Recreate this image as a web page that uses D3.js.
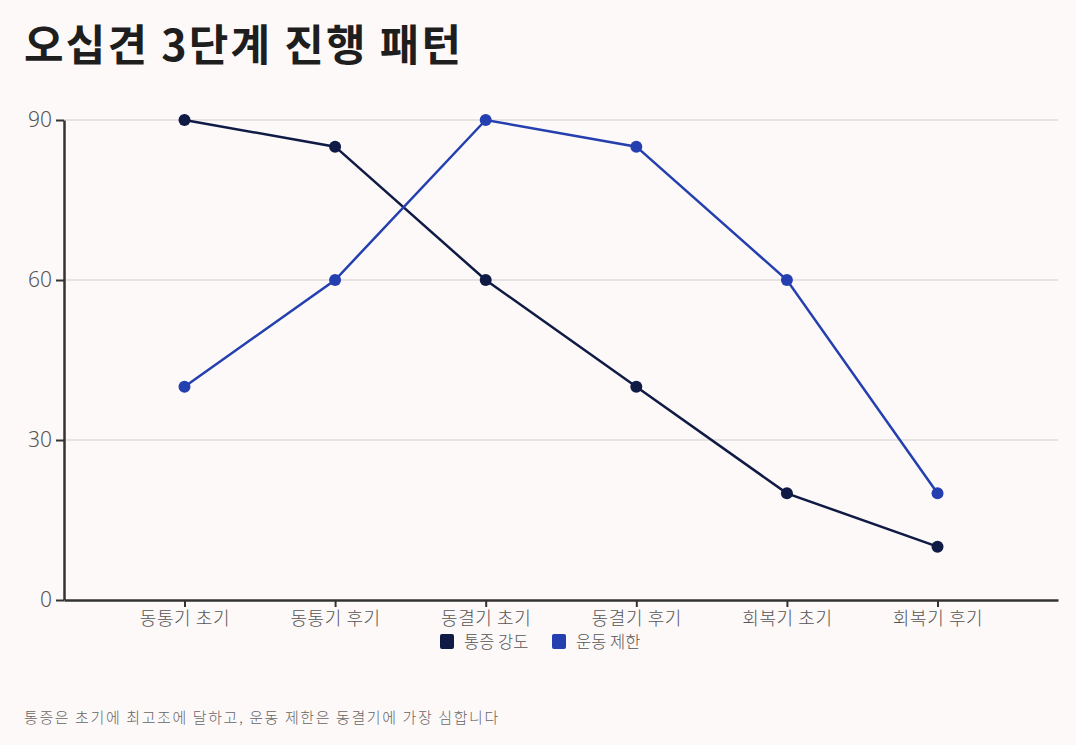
<!DOCTYPE html>
<html>
<head>
<meta charset="utf-8">
<script src="https://cdn.jsdelivr.net/npm/d3@7"></script>
<style>
  body { margin: 0; background: #fdf9f8; font-family: "Noto Sans CJK KR", "Noto Sans", sans-serif; }
  svg { display: block; }
</style>
</head>
<body>
<script>
// data
var stages = ["동통기 초기", "동통기 후기", "동결기 초기", "동결기 후기", "회복기 초기", "회복기 후기"];
var painValues = [90, 85, 60, 40, 20, 10];
var motionValues = [40, 60, 90, 85, 60, 20];
var seriesNames = ["통증 강도", "운동 제한"];
var yTicks = [0, 30, 60, 90];
var colors = ["#0f1a45", "#243fb0"];

var width = 1076, height = 745;
var plotLeft = 64, plotRight = 1058, plotTop = 120, plotBottom = 600;

var svg = d3.select("body").append("svg")
    .attr("width", width)
    .attr("height", height);

svg.append("rect").attr("width", width).attr("height", height).attr("fill", "#fdf9f8");

// title
svg.append("text")
    .attr("x", 24).attr("y", 61)
    .attr("font-size", 43).attr("font-weight", 700)
    .attr("letter-spacing", 2.2)
    .attr("fill", "#1e1e1e")
    .text("오십견 3단계 진행 패턴");

var x = d3.scalePoint().domain(stages).range([plotLeft, plotRight]).padding(0.8);
var y = d3.scaleLinear().domain([0, 90]).range([plotBottom, plotTop]);

// grid
svg.append("g").selectAll("line")
    .data(yTicks.filter(function(d) { return d > 0; }))
    .join("line")
    .attr("x1", plotLeft).attr("x2", plotRight)
    .attr("y1", function(d) { return y(d); })
    .attr("y2", function(d) { return y(d); })
    .attr("stroke", "#d2cecd").attr("stroke-width", 1.2);

// y axis
var yAxis = svg.append("g")
    .attr("transform", "translate(" + plotLeft + ",0)")
    .call(d3.axisLeft(y).tickValues(yTicks).tickSize(8).tickPadding(4).tickSizeOuter(0));
yAxis.select(".domain").attr("stroke", "#333").attr("stroke-width", 2.5);
yAxis.selectAll(".tick line").attr("stroke", "#333").attr("stroke-width", 2);
yAxis.selectAll(".tick text").attr("font-size", 21).attr("fill", "#555")
    .attr("font-family", "'Noto Sans', sans-serif").attr("font-weight", 300);

// x axis
var xAxis = svg.append("g")
    .attr("transform", "translate(0," + plotBottom + ")")
    .call(d3.axisBottom(x).tickSize(7).tickPadding(5).tickSizeOuter(0));
xAxis.select(".domain").attr("stroke", "#333").attr("stroke-width", 2.5);
xAxis.selectAll(".tick line").attr("stroke", "#333").attr("stroke-width", 2);
xAxis.selectAll(".tick text").attr("font-size", 18).attr("fill", "#555")
    .attr("letter-spacing", 0.6)
    .attr("font-family", "'Noto Sans CJK KR', sans-serif").attr("font-weight", 300);

// lines
var series = [painValues, motionValues];
var line = d3.line()
    .x(function(d, i) { return x(stages[i]); })
    .y(function(d) { return y(d); });

series.forEach(function(vals, s) {
  svg.append("path")
      .datum(vals)
      .attr("d", line)
      .attr("fill", "none")
      .attr("stroke", colors[s])
      .attr("stroke-width", 2.5);
  svg.append("g").selectAll("circle")
      .data(vals)
      .join("circle")
      .attr("cx", function(d, i) { return x(stages[i]); })
      .attr("cy", function(d) { return y(d); })
      .attr("r", 6)
      .attr("fill", colors[s]);
});

// legend
var legendX = [440, 552];
var legend = svg.append("g");
seriesNames.forEach(function(name, i) {
  legend.append("rect")
      .attr("x", legendX[i]).attr("y", 634)
      .attr("width", 14).attr("height", 15).attr("rx", 2)
      .attr("fill", colors[i]);
  legend.append("text")
      .attr("x", legendX[i] + 24).attr("y", 648)
      .attr("font-size", 16.5).attr("fill", "#555").attr("font-weight", 300)
      .text(name);
});

// footnote
svg.append("text")
    .attr("x", 24).attr("y", 723)
    .attr("font-size", 15).attr("fill", "#666").attr("font-weight", 300)
    .attr("letter-spacing", 1.6)
    .text("통증은 초기에 최고조에 달하고, 운동 제한은 동결기에 가장 심합니다");
</script>
</body>
</html>
